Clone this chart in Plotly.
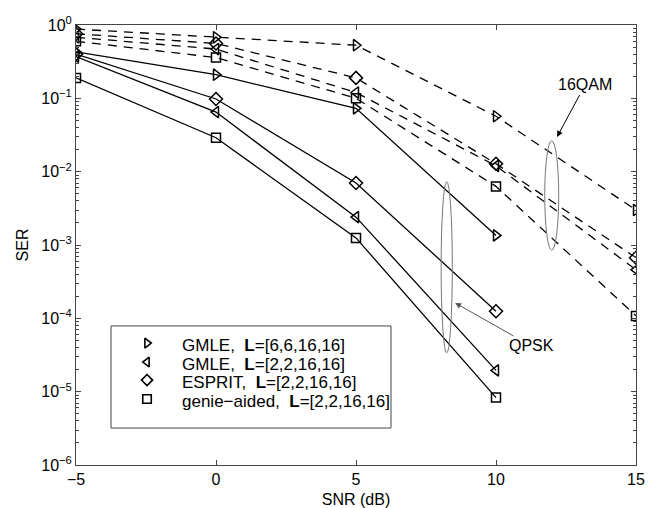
import plotly.graph_objects as go

# ---------------- data ----------------
snr_qpsk = [-5, 0, 5, 10]
snr_16qam = [-5, 0, 5, 10, 15]

ser_qpsk_gmle66 = [0.43, 0.21, 0.073, 1.35e-3]
ser_qpsk_gmle22 = [0.37, 0.065, 2.4e-3, 1.95e-5]
ser_qpsk_esprit = [0.40, 0.098, 7.0e-3, 1.25e-4]
ser_qpsk_genie = [0.19, 0.029, 1.25e-3, 8.3e-6]

ser_16qam_gmle66 = [0.88, 0.68, 0.53, 0.057, 3.0e-3]
ser_16qam_gmle22 = [0.68, 0.47, 0.12, 0.012, 4.6e-4]
ser_16qam_esprit = [0.76, 0.56, 0.19, 0.0128, 6.7e-4]
ser_16qam_genie = [0.60, 0.36, 0.10, 6.3e-3, 1.08e-4]

legend_names = [
    "GMLE,&nbsp; <b>L</b>=[6,6,16,16]",
    "GMLE,&nbsp; <b>L</b>=[2,2,16,16]",
    "ESPRIT,&nbsp; <b>L</b>=[2,2,16,16]",
    "genie\u2212aided,&nbsp; <b>L</b>=[2,2,16,16]",
]
symbols = ["triangle-right-open", "triangle-left-open", "diamond-open", "square-open"]

x_ticks = [-5, 0, 5, 10, 15]
y_tick_exps = [0, -1, -2, -3, -4, -5, -6]
y_tickvals = [10.0 ** e for e in y_tick_exps]
y_ticktext = ["10<sup>0</sup>"] + ["10<sup>\u2212%d</sup>" % (-e) for e in y_tick_exps[1:]]
y_minor = [k * 10.0 ** e for e in range(-6, 0) for k in range(2, 10)]

FONT = "Liberation Sans, Arial, Helvetica, sans-serif"

fig = go.Figure()

qpsk_series = [ser_qpsk_gmle66, ser_qpsk_gmle22, ser_qpsk_esprit, ser_qpsk_genie]
qam_series = [ser_16qam_gmle66, ser_16qam_gmle22, ser_16qam_esprit, ser_16qam_genie]
marker_sizes = [10, 10, 10, 9]

for ys, sym, ms in zip(qam_series, symbols, marker_sizes):
    fig.add_trace(go.Scatter(
        x=snr_16qam, y=ys, mode="lines+markers", showlegend=False,
        line=dict(color="black", width=1.3, dash="9px,7px"),
        marker=dict(symbol=sym, size=ms, color="black", line=dict(color="black", width=1.5)),
    ))
for ys, sym, ms in zip(qpsk_series, symbols, marker_sizes):
    fig.add_trace(go.Scatter(
        x=snr_qpsk, y=ys, mode="lines+markers", showlegend=False,
        line=dict(color="black", width=1.3),
        marker=dict(symbol=sym, size=ms, color="black", line=dict(color="black", width=1.5)),
    ))

# ---------------- legend box (drawn manually, markers only like MATLAB) ----------------
LEG_X0, LEG_X1, LEG_Y0, LEG_Y1 = 0.0625, 0.5625, 0.084, 0.316
leg_marker_x = 0.1268
leg_text_x = 0.1857
leg_rows_y = [0.277, 0.234, 0.193, 0.150]
leg_text_y = [0.271, 0.229, 0.187, 0.145]

fig.add_shape(type="rect", xref="paper", yref="paper", x0=LEG_X0, x1=LEG_X1, y0=LEG_Y0, y1=LEG_Y1,
              line=dict(color="#444444", width=1), layer="below")
for sym, yy in zip(symbols, leg_rows_y):
    fig.add_trace(go.Scatter(
        x=[leg_marker_x], y=[yy], xaxis="x2", yaxis="y2", mode="markers", showlegend=False,
        hoverinfo="skip", cliponaxis=False,
        marker=dict(symbol=sym, size=8.5, color="black", line=dict(color="black", width=1.6)),
    ))
for name, yy in zip(legend_names, leg_text_y):
    fig.add_annotation(x=leg_text_x, y=yy, xref="paper", yref="paper", text=name,
                       showarrow=False, xanchor="left", yanchor="middle",
                       font=dict(family=FONT, size=17, color="black"))

# ellipses grouping the curves
fig.add_shape(type="circle", xref="x", yref="y", x0=8.04, x1=8.44,
              y0=10 ** -4.47, y1=10 ** -2.14, line=dict(color="#777777", width=1))
fig.add_shape(type="circle", xref="x", yref="y", x0=11.74, x1=12.24,
              y0=10 ** -3.07, y1=10 ** -1.578, line=dict(color="#777777", width=1))

fig.add_annotation(x=12.18, y=-1.527, xref="x", yref="y", text="16QAM",
                   showarrow=True, arrowhead=2, arrowsize=1.2, arrowwidth=1,
                   arrowcolor="black", ax=28, ay=-52,
                   font=dict(family=FONT, size=16, color="black"))
fig.add_annotation(x=8.54, y=-3.79, xref="x", yref="y", text="QPSK",
                   showarrow=True, arrowhead=2, arrowsize=1.2, arrowwidth=1,
                   arrowcolor="#555555", ax=76, ay=43,
                   font=dict(family=FONT, size=16, color="black"))

axis_common = dict(
    showline=True, linecolor="#444444", linewidth=1, mirror="ticks",
    ticks="inside", ticklen=5, tickcolor="#444444", showgrid=False, zeroline=False,
    tickfont=dict(family=FONT, size=16, color="black"), automargin=False,
)

fig.update_xaxes(range=[-5, 15], tickmode="array", tickvals=x_ticks,
                 title=dict(text="SNR (dB)", font=dict(family=FONT, size=16, color="black"), standoff=6),
                 **axis_common)
fig.update_yaxes(type="log", range=[-6, 0], tickmode="array", tickvals=y_tickvals, ticktext=y_ticktext,
                 minor=dict(tickmode="array", tickvals=y_minor, ticks="inside", ticklen=3,
                            tickcolor="#444444", showgrid=False),
                 title=dict(text="SER", font=dict(family=FONT, size=16, color="black"), standoff=8),
                 **axis_common)

fig.update_layout(
    width=652, height=508,
    margin=dict(l=76, r=16, t=25, b=43),
    paper_bgcolor="white", plot_bgcolor="white",
    font=dict(family=FONT, size=16, color="black"),
    showlegend=False,
    xaxis2=dict(overlaying="x", anchor="y2", range=[0, 1], visible=False, fixedrange=True),
    yaxis2=dict(overlaying="y", anchor="x2", range=[0, 1], visible=False, fixedrange=True),
)

fig.write_html("out.html")
